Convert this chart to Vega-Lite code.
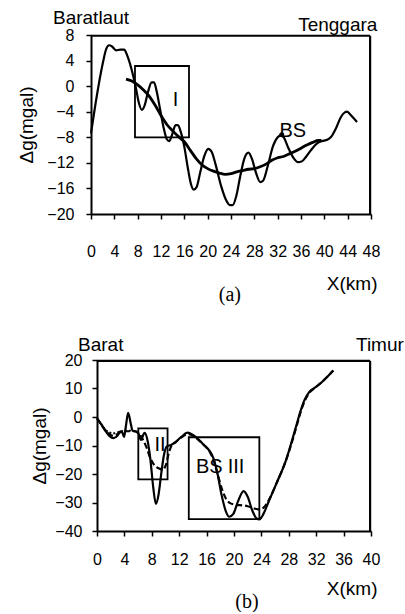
{
  "$schema": "https://vega.github.io/schema/vega-lite/v6.json",
  "background": "white",
  "padding": {"left": 17, "top": 8, "right": 0, "bottom": 0},
  "autosize": {"type": "pad"},
  "bounds": "flush",
  "spacing": 146,
  "config": {
    "font": "Liberation Sans",
    "view": {"stroke": null},
    "axis": {"domainColor": "black", "domainWidth": 2, "ticks": true, "tickColor": "black", "tickWidth": 1.5, "tickSize": 5, "labelColor": "black", "labelFont": "Liberation Sans", "labelFontSize": 16, "titleColor": "black", "titleFont": "Liberation Sans", "titleFontSize": 19, "titleFontWeight": "normal", "grid": false, "labelOverlap": false, "labelFlush": false}
  },
  "datasets": {
    "a_obs": [
      {"x": 0, "y": -7.4}, {"x": 1, "y": -1.5}, {"x": 2, "y": 3.5}, {"x": 2.6, "y": 5.8}, {"x": 3.1, "y": 6.4}, {"x": 3.6, "y": 6.2}, {"x": 4.3, "y": 5.6}, {"x": 5.0, "y": 5.7}, {"x": 5.7, "y": 5.7}, {"x": 6.2, "y": 4.8}, {"x": 6.9, "y": 2.8}, {"x": 7.7, "y": -0.3}, {"x": 8.2, "y": -2.6}, {"x": 8.7, "y": -3.7}, {"x": 9.2, "y": -3.0}, {"x": 9.8, "y": -0.8}, {"x": 10.4, "y": 0.6}, {"x": 10.8, "y": 0.6}, {"x": 11.3, "y": -1.0}, {"x": 11.8, "y": -3.4}, {"x": 12.4, "y": -6.3}, {"x": 13.0, "y": -8.3}, {"x": 13.4, "y": -8.6}, {"x": 13.9, "y": -7.6}, {"x": 14.5, "y": -6.1}, {"x": 14.9, "y": -6.1}, {"x": 15.4, "y": -7.2}, {"x": 16.0, "y": -9.5}, {"x": 16.6, "y": -12.8}, {"x": 17.1, "y": -15.2}, {"x": 17.6, "y": -16.2}, {"x": 18.1, "y": -15.8}, {"x": 18.7, "y": -13.6}, {"x": 19.4, "y": -11.0}, {"x": 20.1, "y": -9.8}, {"x": 20.7, "y": -10.3}, {"x": 21.4, "y": -12.4}, {"x": 22.3, "y": -15.6}, {"x": 23.2, "y": -17.9}, {"x": 23.8, "y": -18.6}, {"x": 24.3, "y": -18.6}, {"x": 24.9, "y": -17.2}, {"x": 25.6, "y": -14.0}, {"x": 26.3, "y": -11.3}, {"x": 27.0, "y": -10.4}, {"x": 27.6, "y": -11.4}, {"x": 28.3, "y": -13.6}, {"x": 29.0, "y": -15.0}, {"x": 29.5, "y": -14.8}, {"x": 30.3, "y": -12.5}, {"x": 31.2, "y": -9.4}, {"x": 32.0, "y": -8.0}, {"x": 32.6, "y": -7.7}, {"x": 33.1, "y": -8.1}, {"x": 33.8, "y": -9.6}, {"x": 34.7, "y": -11.2}, {"x": 35.5, "y": -11.9}, {"x": 36.1, "y": -11.8}, {"x": 36.9, "y": -11.0}, {"x": 37.8, "y": -9.9}, {"x": 38.7, "y": -9.0}, {"x": 39.6, "y": -8.6}, {"x": 40.5, "y": -8.4}, {"x": 41.2, "y": -7.9}, {"x": 42.0, "y": -6.6}, {"x": 42.8, "y": -4.9}, {"x": 43.5, "y": -4.1}, {"x": 43.9, "y": -4.0}, {"x": 44.4, "y": -4.4}, {"x": 45.0, "y": -5.0}, {"x": 45.6, "y": -5.6}
    ],
    "a_reg": [
      {"x": 6.0, "y": 1.1}, {"x": 7.0, "y": 0.8}, {"x": 8.0, "y": 0.2}, {"x": 9.0, "y": -0.6}, {"x": 10.0, "y": -1.6}, {"x": 11.0, "y": -3.0}, {"x": 12.0, "y": -4.6}, {"x": 13.0, "y": -6.0}, {"x": 14.0, "y": -7.0}, {"x": 15.0, "y": -7.9}, {"x": 16.0, "y": -8.7}, {"x": 17.0, "y": -10.0}, {"x": 18.0, "y": -11.3}, {"x": 19.0, "y": -12.3}, {"x": 20.0, "y": -12.9}, {"x": 21.0, "y": -13.3}, {"x": 22.0, "y": -13.6}, {"x": 23.0, "y": -13.8}, {"x": 24.0, "y": -13.7}, {"x": 25.0, "y": -13.4}, {"x": 26.0, "y": -13.2}, {"x": 27.0, "y": -13.0}, {"x": 28.0, "y": -12.9}, {"x": 29.0, "y": -12.6}, {"x": 30.0, "y": -12.2}, {"x": 31.0, "y": -11.6}, {"x": 32.0, "y": -11.2}, {"x": 33.0, "y": -11.0}, {"x": 34.0, "y": -10.6}, {"x": 35.0, "y": -10.2}, {"x": 36.0, "y": -9.7}, {"x": 37.0, "y": -9.2}, {"x": 38.0, "y": -8.8}, {"x": 39.0, "y": -8.5}, {"x": 39.5, "y": -8.5}
    ],
    "a_box": [{"x": 7.54, "x2": 16.8, "y": 3.15, "y2": -8.0}],
    "a_frame": [{"x": 0, "x2": 47.85, "y": 7.88, "y2": 7.88}, {"x": 47.85, "x2": 47.85, "y": -20, "y2": 7.88}],
    "a_side": [{"x": 0, "y": 10.7, "label": "Baratlaut"}, {"x": 42.3, "y": 9.56, "label": "Tenggara"}],
    "a_inner": [{"x": 14.5, "y": -2.1, "label": "I"}, {"x": 34.6, "y": -7.0, "label": "BS"}],
    "a_dot": [{"x": 32.7, "y": -7.6}],
    "a_panel": [{"x": 23.8, "y": -32.6, "label": "(a)"}],
    "b_obs": [
      {"x": 0, "y": -0.5}, {"x": 0.6, "y": -2.5}, {"x": 1.2, "y": -4.8}, {"x": 1.8, "y": -6.6}, {"x": 2.4, "y": -7.4}, {"x": 3.0, "y": -6.5}, {"x": 3.4, "y": -5.0}, {"x": 3.7, "y": -5.5}, {"x": 3.95, "y": -7.0}, {"x": 4.2, "y": -3.5}, {"x": 4.55, "y": 1.5}, {"x": 4.9, "y": -2.0}, {"x": 5.2, "y": -4.8}, {"x": 5.6, "y": -5.0}, {"x": 6.0, "y": -5.5}, {"x": 6.4, "y": -8.0}, {"x": 6.95, "y": -5.6}, {"x": 7.4, "y": -8.5}, {"x": 7.8, "y": -15.0}, {"x": 8.2, "y": -24.5}, {"x": 8.6, "y": -30.5}, {"x": 9.0, "y": -27.0}, {"x": 9.4, "y": -19.5}, {"x": 9.8, "y": -13.0}, {"x": 10.2, "y": -10.3}, {"x": 10.8, "y": -9.8}, {"x": 11.5, "y": -8.7}, {"x": 12.3, "y": -7.0}, {"x": 13.2, "y": -5.5}, {"x": 14.0, "y": -6.3}, {"x": 14.8, "y": -7.8}, {"x": 15.6, "y": -9.8}, {"x": 16.4, "y": -11.8}, {"x": 17.0, "y": -14.5}, {"x": 17.6, "y": -20.0}, {"x": 18.2, "y": -27.5}, {"x": 18.8, "y": -33.0}, {"x": 19.3, "y": -35.0}, {"x": 19.9, "y": -34.0}, {"x": 20.6, "y": -29.5}, {"x": 21.4, "y": -26.0}, {"x": 22.0, "y": -28.0}, {"x": 22.7, "y": -33.0}, {"x": 23.3, "y": -35.6}, {"x": 23.7, "y": -35.9}, {"x": 24.3, "y": -34.0}, {"x": 25.0, "y": -30.0}, {"x": 26.2, "y": -23.3}, {"x": 27.6, "y": -15.1}, {"x": 28.5, "y": -8.0}, {"x": 29.1, "y": -3.0}, {"x": 29.7, "y": 2.0}, {"x": 30.3, "y": 6.0}, {"x": 31.0, "y": 8.8}, {"x": 31.8, "y": 10.3}, {"x": 32.8, "y": 12.2}, {"x": 33.7, "y": 14.3}, {"x": 34.5, "y": 16.3}
    ],
    "b_calc": [
      {"x": 0, "y": -0.5}, {"x": 0.6, "y": -2.6}, {"x": 1.2, "y": -4.6}, {"x": 1.8, "y": -6.0}, {"x": 2.4, "y": -6.6}, {"x": 3.0, "y": -6.0}, {"x": 3.6, "y": -5.2}, {"x": 4.2, "y": -5.0}, {"x": 4.8, "y": -5.0}, {"x": 5.4, "y": -5.0}, {"x": 6.0, "y": -5.4}, {"x": 6.6, "y": -7.5}, {"x": 7.2, "y": -10.5}, {"x": 7.8, "y": -14.5}, {"x": 8.4, "y": -17.0}, {"x": 9.0, "y": -18.0}, {"x": 9.6, "y": -18.5}, {"x": 10.1, "y": -16.5}, {"x": 10.5, "y": -12.5}, {"x": 10.9, "y": -10.0}, {"x": 11.5, "y": -8.8}, {"x": 12.3, "y": -7.2}, {"x": 13.2, "y": -6.0}, {"x": 14.0, "y": -6.5}, {"x": 14.8, "y": -8.0}, {"x": 15.6, "y": -9.8}, {"x": 16.4, "y": -12.0}, {"x": 17.0, "y": -15.0}, {"x": 17.6, "y": -20.0}, {"x": 18.2, "y": -25.0}, {"x": 18.8, "y": -28.5}, {"x": 19.5, "y": -30.3}, {"x": 20.3, "y": -30.8}, {"x": 21.2, "y": -31.0}, {"x": 22.0, "y": -31.3}, {"x": 22.8, "y": -32.0}, {"x": 23.5, "y": -32.4}, {"x": 24.2, "y": -32.0}, {"x": 25.0, "y": -29.5}, {"x": 26.2, "y": -23.3}, {"x": 27.6, "y": -15.1}, {"x": 28.5, "y": -8.5}, {"x": 29.1, "y": -3.5}, {"x": 29.7, "y": 1.5}, {"x": 30.3, "y": 5.5}, {"x": 31.0, "y": 8.5}, {"x": 31.8, "y": 10.2}, {"x": 32.8, "y": 12.2}, {"x": 33.7, "y": 14.3}, {"x": 34.5, "y": 16.3}
    ],
    "b_dot": [
      {"x": 0.6, "y": -2.4}, {"x": 1.2, "y": -4.3}, {"x": 1.8, "y": -5.4}, {"x": 2.4, "y": -5.7}, {"x": 3.0, "y": -5.4}, {"x": 3.6, "y": -5.0}, {"x": 4.2, "y": -4.8}, {"x": 4.8, "y": -4.8}, {"x": 5.4, "y": -5.0}, {"x": 6.0, "y": -5.8}, {"x": 6.6, "y": -8.0}
    ],
    "b_box": [{"x": 6.03, "x2": 10.3, "y": -4.0, "y2": -21.9}, {"x": 13.4, "x2": 23.7, "y": -7.1, "y2": -35.8}],
    "b_frame": [{"x": 0, "x2": 39.87, "y": 19.7, "y2": 19.7}, {"x": 39.87, "x2": 39.87, "y": -40, "y2": 19.7}],
    "b_side": [{"x": 0.54, "y": 25.3, "label": "Barat"}, {"x": 41.3, "y": 25.3, "label": "Timur"}],
    "b_inner": [{"x": 9.2, "y": -9.8, "label": "II"}, {"x": 16.4, "y": -17.4, "label": "BS"}, {"x": 20.3, "y": -17.4, "label": "III"}],
    "b_panel": [{"x": 21.9, "y": -64.9, "label": "(b)"}]
  },
  "vconcat": [
    {
      "width": 280,
      "height": 179,
      "layer": [
        {
          "data": {"name": "a_obs"},
          "mark": {"type": "line", "interpolate": "monotone", "color": "black", "strokeWidth": 2.2},
          "encoding": {
            "x": {"field": "x", "type": "quantitative", "scale": {"domain": [0, 48], "nice": false},
              "axis": {"title": "X(km)", "values": [0, 4, 8, 12, 16, 20, 24, 28, 32, 36, 40, 44, 48], "tickCount": 40, "format": "d", "labelOverlap": false, "labelFlush": false, "labelBound": false, "ticks": true, "tickSize": 5, "tickWidth": 1.5, "tickColor": "black", "labelPadding": 24, "titleX": 286, "titleY": 69, "titleAlign": "right", "titleBaseline": "middle", "titleAngle": 0}},
            "y": {"field": "y", "type": "quantitative", "scale": {"domain": [-20, 8], "nice": false},
              "axis": {"title": "Δg(mgal)", "values": [-20, -16, -12, -8, -4, 0, 4, 8], "tickCount": 40, "format": "d", "labelOverlap": false, "labelFlush": false, "labelBound": false, "ticks": true, "tickSize": 5, "tickWidth": 1.5, "tickColor": "black", "labelPadding": 12, "titleX": -65, "titleY": 89.5, "titleAlign": "center", "titleBaseline": "middle", "titleAngle": -90}}
          }
        },
        {
          "data": {"name": "a_frame"},
          "mark": {"type": "rule", "color": "black", "strokeWidth": 2.2, "clip": false},
          "encoding": {"x": {"field": "x", "type": "quantitative"}, "x2": {"field": "x2"}, "y": {"field": "y", "type": "quantitative"}, "y2": {"field": "y2"}}
        },
        {
          "data": {"name": "a_reg"},
          "mark": {"type": "line", "interpolate": "monotone", "color": "black", "strokeWidth": 2.8},
          "encoding": {"x": {"field": "x", "type": "quantitative"}, "y": {"field": "y", "type": "quantitative"}}
        },
        {
          "data": {"name": "a_box"},
          "mark": {"type": "rect", "filled": false, "color": "black", "strokeWidth": 1.8},
          "encoding": {"x": {"field": "x", "type": "quantitative"}, "x2": {"field": "x2"}, "y": {"field": "y", "type": "quantitative"}, "y2": {"field": "y2"}}
        },
        {
          "data": {"name": "a_dot"},
          "mark": {"type": "point", "filled": true, "color": "black", "size": 25, "opacity": 1},
          "encoding": {"x": {"field": "x", "type": "quantitative"}, "y": {"field": "y", "type": "quantitative"}}
        },
        {
          "data": {"name": "a_side"},
          "mark": {"type": "text", "font": "Liberation Sans", "fontSize": 19, "color": "black", "align": "center", "baseline": "middle"},
          "encoding": {"x": {"field": "x", "type": "quantitative"}, "y": {"field": "y", "type": "quantitative"}, "text": {"field": "label"}}
        },
        {
          "data": {"name": "a_inner"},
          "mark": {"type": "text", "font": "Liberation Sans", "fontSize": 20, "color": "black", "align": "center", "baseline": "middle"},
          "encoding": {"x": {"field": "x", "type": "quantitative"}, "y": {"field": "y", "type": "quantitative"}, "text": {"field": "label"}}
        },
        {
          "data": {"name": "a_panel"},
          "mark": {"type": "text", "font": "Liberation Serif", "fontSize": 20, "color": "black", "align": "center", "baseline": "middle"},
          "encoding": {"x": {"field": "x", "type": "quantitative"}, "y": {"field": "y", "type": "quantitative"}, "text": {"field": "label"}}
        }
      ]
    },
    {
      "width": 280,
      "height": 171,
      "layer": [
        {
          "data": {"name": "b_obs"},
          "mark": {"type": "line", "interpolate": "monotone", "color": "black", "strokeWidth": 2.2},
          "encoding": {
            "x": {"field": "x", "type": "quantitative", "scale": {"domain": [0, 40], "nice": false, "range": [6, 280]},
              "axis": {"title": "X(km)", "values": [0, 4, 8, 12, 16, 20, 24, 28, 32, 36, 40], "tickCount": 40, "format": "d", "labelOverlap": false, "labelFlush": false, "labelBound": false, "ticks": true, "tickSize": 5, "tickWidth": 1.5, "tickColor": "black", "labelPadding": 15, "titleX": 286, "titleY": 57, "titleAlign": "right", "titleBaseline": "middle", "titleAngle": 0}},
            "y": {"field": "y", "type": "quantitative", "scale": {"domain": [-40, 20], "nice": false},
              "axis": {"title": "Δg(mgal)", "values": [-40, -30, -20, -10, 0, 10, 20], "tickCount": 40, "format": "d", "labelOverlap": false, "labelFlush": false, "labelBound": false, "ticks": true, "tickSize": 5, "tickWidth": 1.5, "tickColor": "black", "offset": -6, "labelPadding": 10, "titleX": -58, "titleY": 85.5, "titleAlign": "center", "titleBaseline": "middle", "titleAngle": -90}}
          }
        },
        {
          "data": {"name": "b_frame"},
          "mark": {"type": "rule", "color": "black", "strokeWidth": 2.2, "clip": false},
          "encoding": {"x": {"field": "x", "type": "quantitative"}, "x2": {"field": "x2"}, "y": {"field": "y", "type": "quantitative"}, "y2": {"field": "y2"}}
        },
        {
          "data": {"name": "b_calc"},
          "mark": {"type": "line", "interpolate": "monotone", "color": "black", "strokeWidth": 2.2, "strokeDash": [6, 3]},
          "encoding": {"x": {"field": "x", "type": "quantitative"}, "y": {"field": "y", "type": "quantitative"}}
        },
        {
          "data": {"name": "b_dot"},
          "mark": {"type": "line", "interpolate": "monotone", "color": "black", "strokeWidth": 1.8, "strokeDash": [2, 2]},
          "encoding": {"x": {"field": "x", "type": "quantitative"}, "y": {"field": "y", "type": "quantitative"}}
        },
        {
          "data": {"name": "b_box"},
          "mark": {"type": "rect", "filled": false, "color": "black", "strokeWidth": 1.8},
          "encoding": {"x": {"field": "x", "type": "quantitative"}, "x2": {"field": "x2"}, "y": {"field": "y", "type": "quantitative"}, "y2": {"field": "y2"}}
        },
        {
          "data": {"name": "b_side"},
          "mark": {"type": "text", "font": "Liberation Sans", "fontSize": 19, "color": "black", "align": "center", "baseline": "middle"},
          "encoding": {"x": {"field": "x", "type": "quantitative"}, "y": {"field": "y", "type": "quantitative"}, "text": {"field": "label"}}
        },
        {
          "data": {"name": "b_inner"},
          "mark": {"type": "text", "font": "Liberation Sans", "fontSize": 20, "color": "black", "align": "center", "baseline": "middle"},
          "encoding": {"x": {"field": "x", "type": "quantitative"}, "y": {"field": "y", "type": "quantitative"}, "text": {"field": "label"}}
        },
        {
          "data": {"name": "b_panel"},
          "mark": {"type": "text", "font": "Liberation Serif", "fontSize": 20, "color": "black", "align": "center", "baseline": "middle"},
          "encoding": {"x": {"field": "x", "type": "quantitative"}, "y": {"field": "y", "type": "quantitative"}, "text": {"field": "label"}}
        }
      ]
    }
  ]
}
